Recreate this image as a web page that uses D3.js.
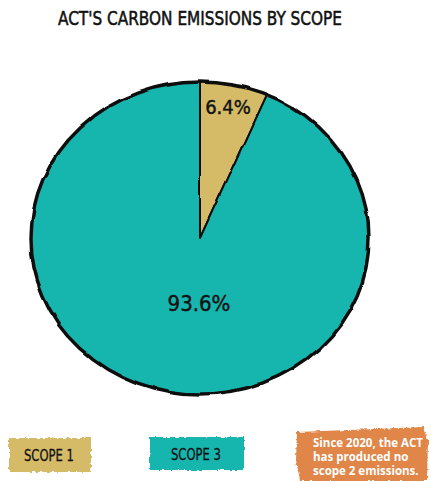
<!DOCTYPE html>
<html>
<head>
<meta charset="utf-8">
<script src="https://cdn.jsdelivr.net/npm/d3@7"></script>
<style>
  html, body { margin: 0; padding: 0; background: #fff; }
  svg { display: block; }
</style>
</head>
<body>
<svg id="chart" width="431" height="481"></svg>
<script>
const categories = ["SCOPE 1", "SCOPE 3"];
const values = [6.4, 93.6];
const valueLabels = ["6.4%", "93.6%"];
const colors = ["#d5ba67", "#15b6ae"];
const title = "ACT'S CARBON EMISSIONS BY SCOPE";
const noteLines = ["Since 2020, the ACT", "has produced no", "scope 2 emissions."];

const svg = d3.select("#chart");

const defs = svg.append("defs");
const rough = defs.append("filter").attr("id", "rough").attr("x", "-5%").attr("y", "-5%").attr("width", "110%").attr("height", "110%");
rough.append("feTurbulence").attr("type", "fractalNoise").attr("baseFrequency", 0.03).attr("numOctaves", 2).attr("seed", 3).attr("result", "n");
rough.append("feDisplacementMap").attr("in", "SourceGraphic").attr("in2", "n").attr("scale", 5).attr("xChannelSelector", "R").attr("yChannelSelector", "G");

const roughEdge = defs.append("filter").attr("id", "roughEdge").attr("x", "-5%").attr("y", "-10%").attr("width", "110%").attr("height", "120%");
roughEdge.append("feTurbulence").attr("type", "fractalNoise").attr("baseFrequency", 0.25).attr("numOctaves", 2).attr("seed", 7).attr("result", "n");
roughEdge.append("feDisplacementMap").attr("in", "SourceGraphic").attr("in2", "n").attr("scale", 4).attr("xChannelSelector", "R").attr("yChannelSelector", "G");

const font = "'DejaVu Sans Condensed', 'Liberation Sans Narrow', sans-serif";

// Title
svg.append("text")
  .attr("x", 200).attr("y", 25)
  .attr("text-anchor", "middle")
  .attr("font-family", font)
  .attr("font-size", 19)
  .attr("fill", "#111")
  .attr("stroke", "#111")
  .attr("stroke-width", 0.5)
  .attr("textLength", 284)
  .attr("lengthAdjust", "spacingAndGlyphs")
  .text(title);

// Pie
const cx = 200, cy = 238, rx = 169, ry = 156;
const pie = d3.pie().sort(null).value(d => d.v);
const data = pie(categories.map((c, i) => ({ c, v: values[i], color: colors[i], label: valueLabels[i] })));
const arc = d3.arc().innerRadius(0).outerRadius(ry);

const g = svg.append("g").attr("transform", `translate(${cx},${cy}) scale(${rx / ry},1)`);
const gp = g.append("g").attr("filter", "url(#rough)");
gp.selectAll("path.slice")
  .data(data)
  .join("path")
  .attr("class", "slice")
  .attr("d", arc)
  .attr("fill", d => d.data.color)
  .attr("stroke", "#111")
  .attr("stroke-width", 2)
  .attr("stroke-linejoin", "round")
  .attr("vector-effect", "non-scaling-stroke");
gp.append("path")
  .attr("d", d3.arc().innerRadius(ry).outerRadius(ry)({ startAngle: 0, endAngle: 2 * Math.PI }))
  .attr("fill", "none")
  .attr("stroke", "#111")
  .attr("stroke-width", 3.5)
  .attr("vector-effect", "non-scaling-stroke");

// Value labels (label angle: slice mid-angle, or straight down for the large slice)
const labelPos = [
  { r: ry * 0.86, angle: null, size: 20 },
  { r: ry * 0.42, angle: Math.PI, size: 22 }
];
const labAngle = (d, i) => labelPos[i].angle !== null ? labelPos[i].angle : (d.startAngle + d.endAngle) / 2;
svg.selectAll("text.val")
  .data(data)
  .join("text")
  .attr("class", "val")
  .attr("x", (d, i) => cx - 1 + Math.sin(labAngle(d, i)) * labelPos[i].r * rx / ry)
  .attr("y", (d, i) => cy - Math.cos(labAngle(d, i)) * labelPos[i].r + labelPos[i].size * 0.36)
  .attr("text-anchor", "middle")
  .attr("font-family", font)
  .attr("font-size", (d, i) => labelPos[i].size)
  .attr("fill", "#111")
  .attr("stroke", "#111")
  .attr("stroke-width", 0.4)
  .text(d => d.data.label);

// Legend
const legendBoxes = [
  { x: 9, y: 438, w: 82, h: 34 },
  { x: 150, y: 437, w: 94, h: 33 }
];
const lg = svg.selectAll("g.leg")
  .data(categories)
  .join("g")
  .attr("class", "leg");
lg.append("rect")
  .attr("x", (d, i) => legendBoxes[i].x)
  .attr("y", (d, i) => legendBoxes[i].y)
  .attr("width", (d, i) => legendBoxes[i].w)
  .attr("height", (d, i) => legendBoxes[i].h)
  .attr("fill", (d, i) => colors[i])
  .attr("filter", "url(#roughEdge)");
lg.append("text")
  .attr("x", (d, i) => legendBoxes[i].x + legendBoxes[i].w / 2 - 1)
  .attr("y", (d, i) => legendBoxes[i].y + legendBoxes[i].h / 2 + 6)
  .attr("text-anchor", "middle")
  .attr("font-family", font)
  .attr("font-size", 16)
  .attr("fill", "#111")
  .attr("stroke", "#111")
  .attr("stroke-width", 0.3)
  .attr("textLength", 50)
  .attr("lengthAdjust", "spacingAndGlyphs")
  .text(d => d);

// Note box
svg.append("path")
  .attr("d", "M297,432 L424,427 L428,440 L427,481 L300,481 L296,460 Z")
  .attr("fill", "#e0864a")
  .attr("filter", "url(#roughEdge)");
svg.append("g").selectAll("text")
  .data(noteLines)
  .join("text")
  .attr("x", 313)
  .attr("y", (d, i) => 447 + i * 14)
  .attr("font-family", "'Open Sans', 'Noto Sans', sans-serif")
  .attr("font-weight", "bold")
  .attr("font-size", 11.5)
  .attr("fill", "#fff")
  .text(d => d);
</script>
</body>
</html>
